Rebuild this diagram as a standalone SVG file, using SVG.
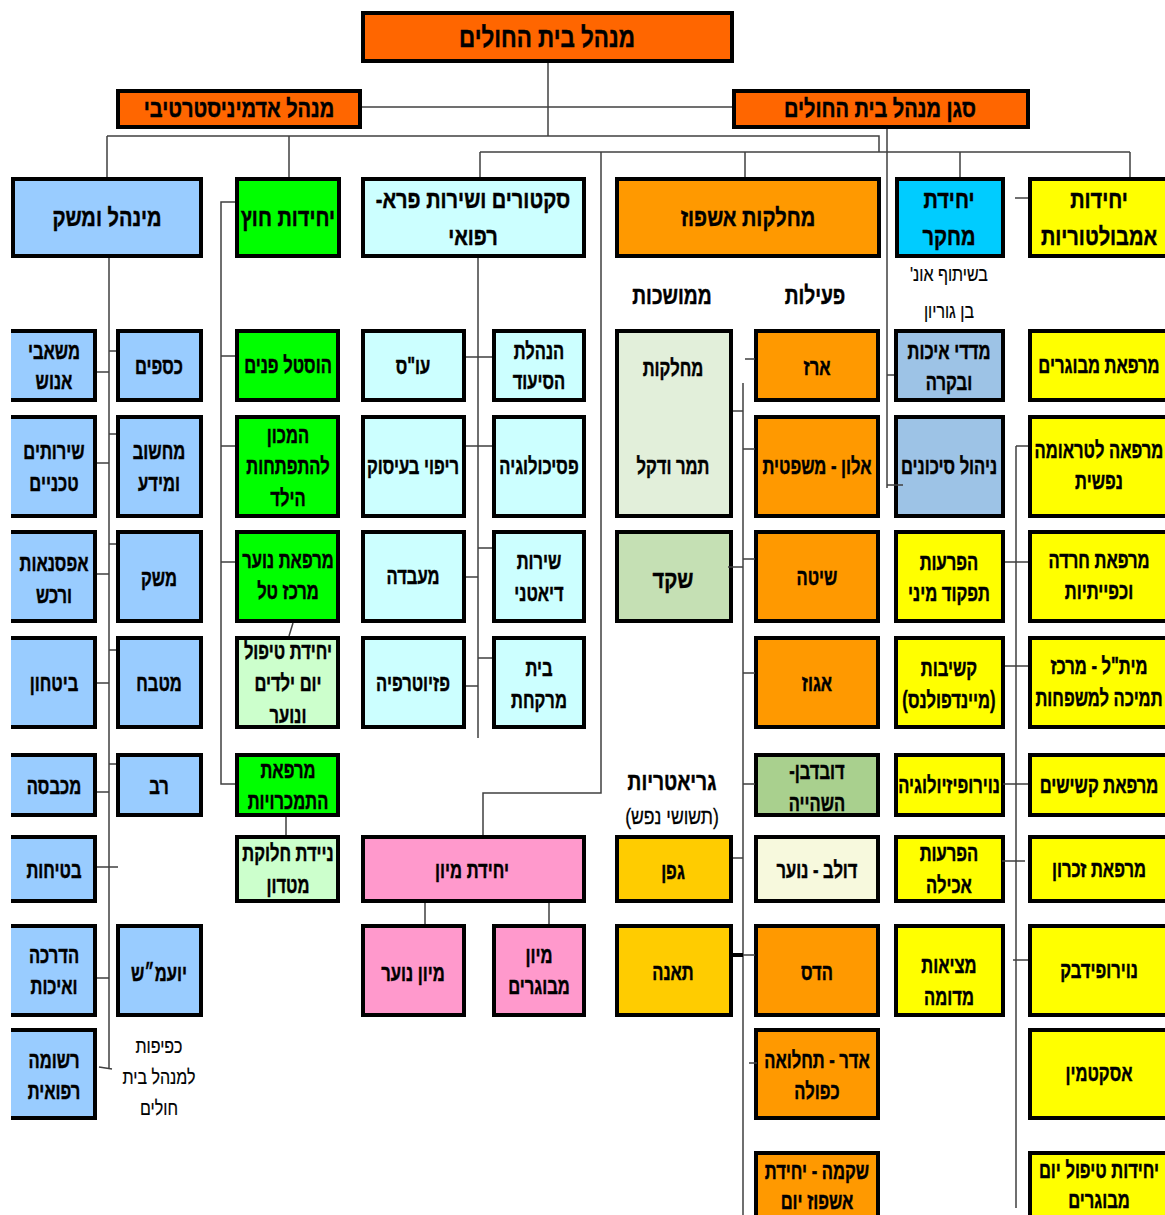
<svg xmlns="http://www.w3.org/2000/svg" width="1165" height="1215" viewBox="0 0 1165 1215">
<style>
rect{stroke:#000;stroke-width:4}
.o1{fill:#FF6600}.bl{fill:#99CCFF}.gr{fill:#00FF00}.lg{fill:#CCFFCC}.cy{fill:#CCFFFF}.or{fill:#FF9900}.pk{fill:#FF99CC}.mg{fill:#E2EFDA}.sk{fill:#C5E0B4}.db{fill:#A9D08E}.dl{fill:#F7F9DD}.rc{fill:#00CCFF}.rb{fill:#9DC3E6}.ye{fill:#FFFF00}.gf{fill:#FFCC00}
text{font-family:"Liberation Sans",Arial,"DejaVu Sans",sans-serif;font-weight:700;font-size:23px;text-anchor:middle;direction:rtl;transform:scale(.72,1);fill:#000;stroke:#000;stroke-width:.45}
text.h{font-size:25px;transform:scale(.8,1)}
text.top{font-size:28px;transform:scale(.8,1)}
text.l{font-size:24px;transform:scale(.8,1)}
text.n{font-weight:400;font-size:20px;transform:scale(.8,1);stroke-width:.2}
text.n2{font-weight:400;font-size:22px;transform:scale(.8,1);stroke-width:.3}
#connectors path{fill:none;stroke:#404040;stroke-width:1.5}
#connectors path.k{stroke:#000;stroke-width:4}
</style>
<defs><clipPath id="lc"><rect x="11" y="0" width="200" height="1215" style="stroke:none"/></clipPath></defs>
<rect x="0" y="0" width="1165" height="1215" style="fill:#fff;stroke:none"/>

<g id="top"><rect class="o1" x="363" y="13" width="369" height="48"/><text class="top" x="683.75" y="47">מנהל בית החולים</text></g>
<g id="admin"><rect class="o1" x="118" y="91" width="242" height="36"/><text class="h" x="298.75" y="117">מנהל אדמיניסטרטיבי</text></g>
<g id="deputy"><rect class="o1" x="734" y="91" width="294" height="36"/><text class="h" x="1100" y="117">סגן מנהל בית החולים</text></g>

<g id="h_minhal"><rect class="bl" x="13" y="179" width="188" height="77"/><text class="h" x="133.75" y="226">מינהל ומשק</text></g>
<g id="h_hutz"><rect class="gr" x="237" y="179" width="102" height="77"/><text class="h" x="360" y="226">יחידות חוץ</text></g>
<g id="h_sectors"><rect class="cy" x="363" y="179" width="221" height="77"/><text class="h" x="591.25" y="208">סקטורים ושירות פרא-</text><text class="h" x="591.25" y="245">רפואי</text></g>
<g id="h_ishpuz"><rect class="or" x="617" y="179" width="262" height="77"/><text class="h" x="935" y="226">מחלקות אשפוז</text></g>
<g id="h_mechkar"><rect class="rc" x="897" y="179" width="106" height="77"/><text class="h" x="1186.25" y="208">יחידת</text><text class="h" x="1186.25" y="245">מחקר</text></g>
<g id="h_ambul"><rect class="ye" x="1030" y="179" width="150" height="77"/><text class="h" x="1373.75" y="208">יחידות</text><text class="h" x="1373.75" y="245">אמבולטוריות</text></g>

<g id="note_bgu"><text class="n" x="1186.25" y="281">בשיתוף אונ'</text><text class="n" x="1186.25" y="318">בן גוריון</text></g>
<g id="lbl_chronic"><text class="l" x="840" y="304">ממושכות</text></g>
<g id="lbl_active"><text class="l" x="1018.75" y="304">פעילות</text></g>
<g id="lbl_geri"><text class="l" x="840" y="790">גריאטריות</text><text class="n2" x="840" y="824">(תשושי נפש)</text></g>
<g id="note_kfifut"><text class="n" x="198.75" y="1053">כפיפות</text><text class="n" x="198.75" y="1084">למנהל בית</text><text class="n" x="198.75" y="1115">חולים</text></g>

<g clip-path="url(#lc)">
<g id="n_hr"><rect class="bl" x="4" y="331" width="91" height="69"/><text x="75" y="359">משאבי</text><text x="75" y="389">אנוש</text></g>
<g id="n_tech"><rect class="bl" x="4" y="417" width="91" height="99"/><text x="75" y="459">שירותים</text><text x="75" y="491">טכניים</text></g>
<g id="n_supply"><rect class="bl" x="4" y="532" width="91" height="89"/><text x="75" y="571">אפסנאות</text><text x="75" y="603">ורכש</text></g>
<g id="n_security"><rect class="bl" x="4" y="638" width="91" height="89"/><text x="75" y="691">ביטחון</text></g>
<g id="n_laundry"><rect class="bl" x="4" y="755" width="91" height="60"/><text x="75" y="794">מכבסה</text></g>
<g id="n_safety"><rect class="bl" x="4" y="837" width="91" height="64"/><text x="75" y="878">בטיחות</text></g>
<g id="n_training"><rect class="bl" x="4" y="926" width="91" height="89"/><text x="75" y="963">הדרכה</text><text x="75" y="994">ואיכות</text></g>
<g id="n_records"><rect class="bl" x="4" y="1030" width="91" height="88"/><text x="75" y="1068">רשומה</text><text x="75" y="1099">רפואית</text></g>
</g>

<g id="n_finance"><rect class="bl" x="118" y="331" width="83" height="69"/><text x="220.83" y="374">כספים</text></g>
<g id="n_it"><rect class="bl" x="118" y="417" width="83" height="99"/><text x="220.83" y="459">מחשוב</text><text x="220.83" y="491">ומידע</text></g>
<g id="n_meshek"><rect class="bl" x="118" y="532" width="83" height="89"/><text x="220.83" y="586">משק</text></g>
<g id="n_kitchen"><rect class="bl" x="118" y="638" width="83" height="89"/><text x="220.83" y="691">מטבח</text></g>
<g id="n_rabbi"><rect class="bl" x="118" y="755" width="83" height="60"/><text x="220.83" y="794">רב</text></g>
<g id="n_legal"><rect class="bl" x="118" y="926" width="83" height="89"/><text x="220.83" y="981">יועמ״ש</text></g>

<g id="n_hostel"><rect class="gr" x="237" y="331" width="101" height="69"/><text x="400" y="373">הוסטל פנים</text></g>
<g id="n_childdev"><rect class="gr" x="237" y="417" width="101" height="99"/><text x="400" y="443">המכון</text><text x="400" y="474">להתפתחות</text><text x="400" y="506">הילד</text></g>
<g id="n_youthclinic"><rect class="gr" x="237" y="532" width="101" height="89"/><text x="400" y="568">מרפאת נוער</text><text x="400" y="599">מרכז טל</text></g>
<g id="n_daykids"><rect class="lg" x="237" y="638" width="101" height="89"/><text x="400" y="659">יחידת טיפול</text><text x="400" y="691">יום ילדים</text><text x="400" y="723">ונוער</text></g>
<g id="n_addiction"><rect class="gr" x="237" y="755" width="101" height="60"/><text x="400" y="778">מרפאת</text><text x="400" y="809">התמכרויות</text></g>
<g id="n_methadone"><rect class="lg" x="237" y="837" width="101" height="64"/><text x="400" y="861">ניידת חלוקת</text><text x="400" y="893">מטדון</text></g>

<g id="n_social"><rect class="cy" x="363" y="331" width="101" height="69"/><text x="573.61" y="374">עו"ס</text></g>
<g id="n_ot"><rect class="cy" x="363" y="417" width="101" height="99"/><text x="573.61" y="474">ריפוי בעיסוק</text></g>
<g id="n_lab"><rect class="cy" x="363" y="532" width="101" height="89"/><text x="573.61" y="584">מעבדה</text></g>
<g id="n_physio"><rect class="cy" x="363" y="638" width="101" height="89"/><text x="573.61" y="691">פזיוטרפיה</text></g>
<g id="n_nursing"><rect class="cy" x="494" y="331" width="90" height="69"/><text x="748.61" y="359">הנהלת</text><text x="748.61" y="389">הסיעוד</text></g>
<g id="n_psych"><rect class="cy" x="494" y="417" width="90" height="99"/><text x="748.61" y="474">פסיכולוגיה</text></g>
<g id="n_diet"><rect class="cy" x="494" y="532" width="90" height="89"/><text x="748.61" y="569">שירות</text><text x="748.61" y="601">דיאטני</text></g>
<g id="n_pharmacy"><rect class="cy" x="494" y="638" width="90" height="89"/><text x="748.61" y="676">בית</text><text x="748.61" y="708">מרקחת</text></g>

<g id="n_er"><rect class="pk" x="363" y="837" width="221" height="64"/><text x="655.56" y="878">יחידת מיון</text></g>
<g id="n_er_youth"><rect class="pk" x="363" y="926" width="101" height="89"/><text x="573.61" y="981">מיון נוער</text></g>
<g id="n_er_adult"><rect class="pk" x="494" y="926" width="90" height="89"/><text x="748.61" y="963">מיון</text><text x="748.61" y="994">מבוגרים</text></g>

<g id="n_tamar"><rect class="mg" x="617" y="331" width="114" height="185"/><text x="934.72" y="376">מחלקות</text><text x="934.72" y="474">תמר ודקל</text></g>
<g id="n_shaked"><rect class="sk" x="617" y="532" width="114" height="89"/><text class="h" x="841.25" y="588">שקד</text></g>
<g id="n_gefen"><rect class="gf" x="617" y="837" width="114" height="64"/><text x="934.72" y="879">גפן</text></g>
<g id="n_teena"><rect class="gf" x="617" y="926" width="114" height="89"/><text x="934.72" y="980">תאנה</text></g>

<g id="n_erez"><rect class="or" x="756" y="331" width="122" height="69"/><text x="1134.72" y="375">ארז</text></g>
<g id="n_alon"><rect class="or" x="756" y="417" width="122" height="99"/><text x="1134.72" y="474">אלון - משפטית</text></g>
<g id="n_shita"><rect class="or" x="756" y="532" width="122" height="89"/><text x="1134.72" y="585">שיטה</text></g>
<g id="n_egoz"><rect class="or" x="756" y="638" width="122" height="89"/><text x="1134.72" y="691">אגוז</text></g>
<g id="n_duvdevan"><rect class="db" x="756" y="755" width="122" height="60"/><text x="1134.72" y="779">דובדבן-</text><text x="1134.72" y="811">השהייה</text></g>
<g id="n_dolev"><rect class="dl" x="756" y="837" width="122" height="64"/><text x="1134.72" y="878">דולב - נוער</text></g>
<g id="n_hadas"><rect class="or" x="756" y="926" width="122" height="89"/><text x="1134.72" y="980">הדס</text></g>
<g id="n_adar"><rect class="or" x="756" y="1030" width="122" height="88"/><text x="1134.72" y="1068">אדר - תחלואה</text><text x="1134.72" y="1099">כפולה</text></g>
<g id="n_shikma"><rect class="or" x="756" y="1153" width="122" height="80"/><text x="1134.72" y="1179">שקמה - יחידת</text><text x="1134.72" y="1209">אשפוז יום</text></g>

<g id="n_quality"><rect class="rb" x="896" y="331" width="107" height="69"/><text x="1318.06" y="359">מדדי איכות</text><text x="1318.06" y="390">ובקרה</text></g>
<g id="n_risk"><rect class="rb" x="896" y="417" width="107" height="99"/><text x="1318.06" y="474">ניהול סיכונים</text></g>
<g id="n_sexual"><rect class="ye" x="896" y="532" width="107" height="89"/><text x="1318.06" y="570">הפרעות</text><text x="1318.06" y="601">תפקוד מיני</text></g>
<g id="n_mindful"><rect class="ye" x="896" y="638" width="107" height="89"/><text x="1318.06" y="676">קשיבות</text><text x="1318.06" y="708">(מיינדפולנס)</text></g>
<g id="n_neurophys"><rect class="ye" x="896" y="755" width="107" height="60"/><text x="1318.06" y="793">נוירופיזיולוגיה</text></g>
<g id="n_eating"><rect class="ye" x="896" y="837" width="107" height="64"/><text x="1318.06" y="861">הפרעות</text><text x="1318.06" y="893">אכילה</text></g>
<g id="n_vr"><rect class="ye" x="896" y="926" width="107" height="89"/><text x="1318.06" y="973">מציאות</text><text x="1318.06" y="1005">מדומה</text></g>

<g id="n_adultclinic"><rect class="ye" x="1030" y="331" width="150" height="69"/><text x="1526.39" y="373">מרפאת מבוגרים</text></g>
<g id="n_trauma"><rect class="ye" x="1030" y="417" width="150" height="99"/><text x="1526.39" y="458">מרפאה לטראומה</text><text x="1526.39" y="489">נפשית</text></g>
<g id="n_anxiety"><rect class="ye" x="1030" y="532" width="150" height="89"/><text x="1526.39" y="568">מרפאת חרדה</text><text x="1526.39" y="599">וכפייתיות</text></g>
<g id="n_mital"><rect class="ye" x="1030" y="638" width="150" height="89"/><text x="1526.39" y="674">מית"ל - מרכז</text><text x="1526.39" y="706">תמיכה למשפחות</text></g>
<g id="n_elderly"><rect class="ye" x="1030" y="755" width="150" height="60"/><text x="1526.39" y="793">מרפאת קשישים</text></g>
<g id="n_memory"><rect class="ye" x="1030" y="837" width="150" height="64"/><text x="1526.39" y="877">מרפאת זכרון</text></g>
<g id="n_neurofeedback"><rect class="ye" x="1030" y="926" width="150" height="89"/><text x="1526.39" y="978">נוירופידבק</text></g>
<g id="n_esketamine"><rect class="ye" x="1030" y="1030" width="150" height="88"/><text x="1526.39" y="1081">אסקטמין</text></g>
<g id="n_dayadult"><rect class="ye" x="1030" y="1153" width="150" height="80"/><text x="1526.39" y="1178">יחידות טיפול יום</text><text x="1526.39" y="1208">מבוגרים</text></g>

<g id="connectors">
<path d="M548,63 V136"/>
<path d="M362,107 H732"/>
<path d="M107,136 H879 V152"/>
<path d="M480,152 H1130"/>
<path d="M107,136 V177 M289,136 V177 M480,152 V177 M745,152 V177 M960,152 V177 M1130,152 V177"/>
<path d="M601,152 V793 H483 V835"/>
<path d="M887,129 V488 M887,375 H894 M887,485 H903"/>
<path d="M1015,198 H1028"/>
<path d="M109,258 V1068 M109,351 H116 M97,372 H109 M109,434 H116 M97,463 H109 M109,544 H116 M97,574 H109 M109,650 H116 M97,683 H109 M109,764 H116 M97,792 H109 M97,867 H118 M97,978 H109 M99,1067 L112,1069"/>
<path d="M235,202 H221 V784 H235 M221,356 H235 M221,446 H235 M221,562 H235"/>
<path d="M293,623 L289,636 M286,817 V835"/>
<path d="M478,258 V738 M466,357 H492 M466,446 H492 M478,548 H492 M466,577 H478 M478,658 H492 M466,686 H478"/>
<path d="M425,903 V924 M549,903 V924"/>
<path d="M743,383 V1215 M745,359 H755 M733,411 H743 M743,449 H755 M743,559 H755 M728,567 H743 M743,673 H755 M743,784 H755 M733,858 H743 M743,955 H755 M749,1063 H757"/>
<path class="k" d="M733,955 H743"/>
<path d="M1016,446 V1208 M1016,446 H1028 M1005,562 H1028 M1005,666 H1028 M1003,784 H1028 M1002,861 H1025 M1013,960 H1028"/>
</g>
</svg>
